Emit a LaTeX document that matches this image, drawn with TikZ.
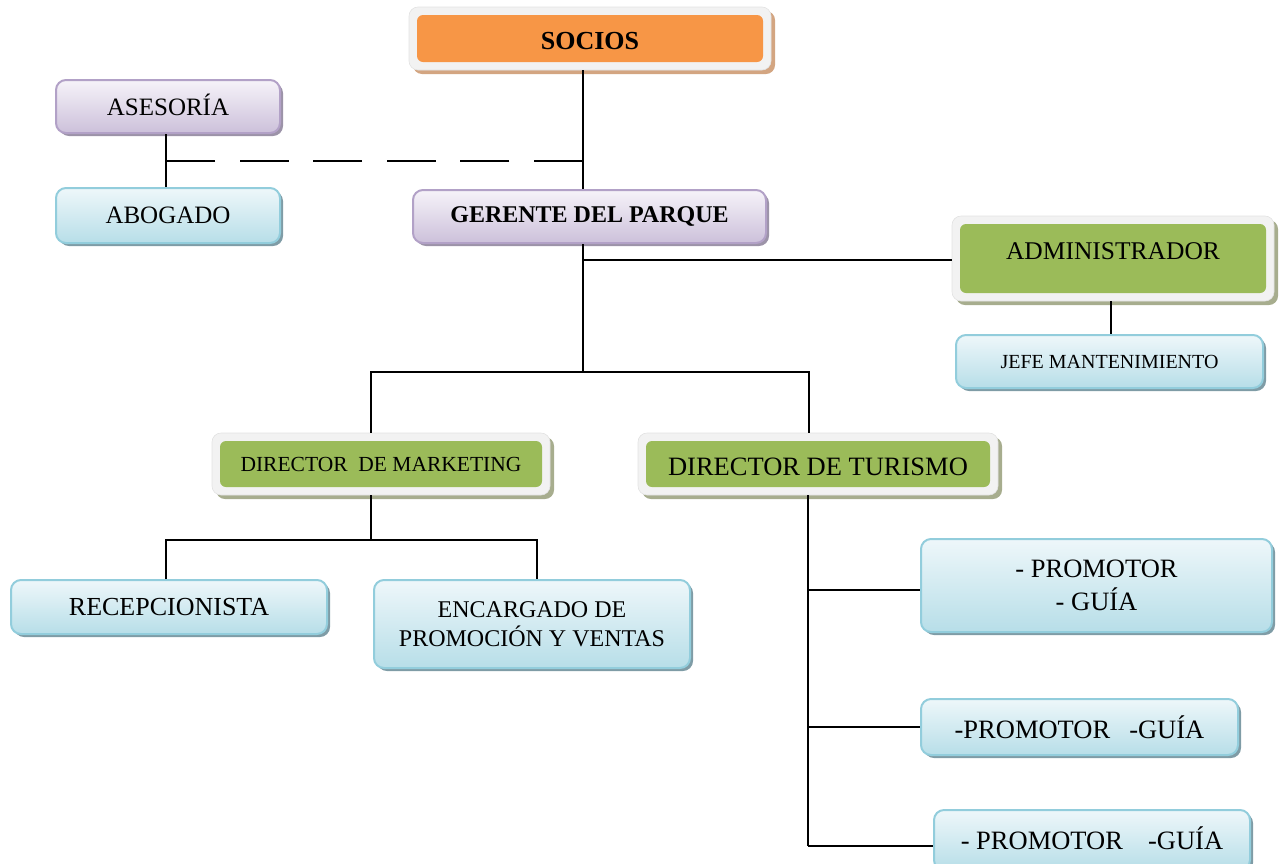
\documentclass[tikz,border=0pt]{standalone}
\usepackage{fontspec}
\setmainfont{Liberation Serif}
\usetikzlibrary{shadows}
\definecolor{orangefill}{HTML}{F79646}
\definecolor{greenfill}{HTML}{9BBB59}
\definecolor{framefill}{HTML}{F2F2F2}
\definecolor{frameborder}{HTML}{E2E2E2}
\definecolor{orangeshadow}{HTML}{D3A581}
\definecolor{greenshadow}{HTML}{A7AD8E}
\definecolor{blueborder}{HTML}{92CDDC}
\definecolor{bluetop}{HTML}{EEF7FA}
\definecolor{bluebottom}{HTML}{B7DEE8}
\definecolor{blueshadow}{HTML}{7F9CA6}
\definecolor{purpleborder}{HTML}{B2A1C7}
\definecolor{purpletop}{HTML}{F6F3F9}
\definecolor{purplebottom}{HTML}{CCC0DA}
\definecolor{purpleshadow}{HTML}{9C93A8}
\tikzset{
  framed/.style={rounded corners=9pt, fill=framefill, draw=frameborder, line width=0.6pt,
    inner sep=0pt, align=center,
    path picture={\fill[#1, rounded corners=6pt]
      ([shift={(8pt,-8pt)}]path picture bounding box.north west) rectangle
      ([shift={(-8pt,8pt)}]path picture bounding box.south east);}},
  orangebox/.style={framed=orangefill,
    drop shadow={shadow xshift=4pt, shadow yshift=-4pt, fill=orangeshadow, opacity=1}},
  greenbox/.style={framed=greenfill,
    drop shadow={shadow xshift=4pt, shadow yshift=-4pt, fill=greenshadow, opacity=1}},
  bluebox/.style={rounded corners=10pt, draw=blueborder, line width=2pt,
    top color=bluetop, bottom color=bluebottom, inner sep=0pt, align=center,
    drop shadow={shadow xshift=3pt, shadow yshift=-3pt, fill=blueshadow, opacity=1}},
  purplebox/.style={rounded corners=10pt, draw=purpleborder, line width=2pt,
    top color=purpletop, bottom color=purplebottom, inner sep=0pt, align=center,
    drop shadow={shadow xshift=3pt, shadow yshift=-3pt, fill=purpleshadow, opacity=1}},
  conn/.style={draw=black, line width=1.6pt},
  dashconn/.style={conn, dash pattern=on 49pt off 24.6pt},
  sz/.style 2 args={minimum width=#1pt, minimum height=#2pt},
}
\newcommand{\fsz}[1]{\fontsize{#1}{#1}\selectfont}
\newcommand{\vshift}[2]{\raisebox{#1}[\height][\depth]{#2}}
\begin{document}
\begin{tikzpicture}[x=1pt,y=-1pt]
\useasboundingbox (0,0) rectangle (1279,863);

% nodes
\node[orangebox, sz={362}{63}, font=\fsz{26}\bfseries] (socios) at (590,38.5) {\vshift{-3pt}{SOCIOS}};
\node[purplebox, sz={224}{53}, font=\fsz{25}] (asesoria) at (168,106.5) {\vshift{1.5pt}{ASESORÍA}};
\node[bluebox, sz={224}{55}, font=\fsz{25}] (abogado) at (168,215.5) {ABOGADO};
\node[purplebox, sz={353}{53}, font=\fsz{24}\bfseries] (gerente) at (589.5,216.5) {GERENTE DEL PARQUE};
\node[greenbox, sz={322}{85}, font=\fsz{25.5}] (admin) at (1113,258.5) {\vshift{7pt}{ADMINISTRADOR}};
\node[bluebox, sz={307}{53}, font=\fsz{20}] (jefe) at (1109.5,361.5) {JEFE MANTENIMIENTO};
\node[greenbox, sz={338}{62}, font=\fsz{21.5}] (marketing) at (381,464) {DIRECTOR\ \ DE MARKETING};
\node[greenbox, sz={360}{62}, font=\fsz{26.5}] (turismo) at (818,464) {\vshift{-3pt}{DIRECTOR DE TURISMO}};
\node[bluebox, sz={316}{54}, font=\fsz{26}] (recep) at (169,607) {RECEPCIONISTA};
\node[bluebox, sz={316}{88}, font=\fontsize{24}{29}\selectfont] (encargado) at (532,624) {ENCARGADO DE\\PROMOCIÓN Y VENTAS};
\node[bluebox, sz={351}{93}, font=\fontsize{26.5}{33}\selectfont] (prom1) at (1096.5,585.5) {- PROMOTOR\\- GUÍA};
\node[bluebox, sz={317}{56}, font=\fsz{26.5}] (prom2) at (1079.5,727) {-PROMOTOR\hspace{0.72em}-GUÍA};
\node[bluebox, sz={316}{60}, font=\fsz{26.5}] (prom3) at (1092,840) {\vshift{1.5pt}{- PROMOTOR\hspace{0.95em}-GUÍA}};

% junction coordinates
\coordinate (jA) at (583,161);
\coordinate (jL) at (166,161);
\coordinate (jG) at (583,260);
\coordinate (jB) at (583,372);
\coordinate (jJ) at (1111,320);
\coordinate (jML) at (371,372);
\coordinate (jTR) at (809,372);
\coordinate (jM) at (371,540);
\coordinate (jR) at (166,540);
\coordinate (jE) at (537,540);
\coordinate (jT1) at (808,590);
\coordinate (jT2) at (808,727);
\coordinate (jT3) at (808,846);

% connectors
\draw[conn] (socios.south -| jA) -- (gerente.north -| jA);
\draw[dashconn] (jA) -- (jL);
\draw[conn] (asesoria.south -| jL) -- (abogado.north -| jL);
\draw[conn] (gerente.south -| jA) -- (jB);
\draw[conn] (jG) -- (admin.west |- jG);
\draw[conn] (admin.south -| jJ) -- (jefe.north -| jJ);
\draw[conn] (marketing.north -| jML) -- (jML) -- (jTR) -- (turismo.north -| jTR);
\draw[conn] (marketing.south -| jM) -- (jM);
\draw[conn] (recep.north -| jR) -- (jR) -- (jE) -- (encargado.north -| jE);
\draw[conn] (turismo.south -| jT1) -- (jT3);
\draw[conn] (jT1) -- (prom1.west |- jT1);
\draw[conn] (jT2) -- (prom2.west |- jT2);
\draw[conn] (jT3) -- (prom3.west |- jT3);
\end{tikzpicture}
\end{document}
